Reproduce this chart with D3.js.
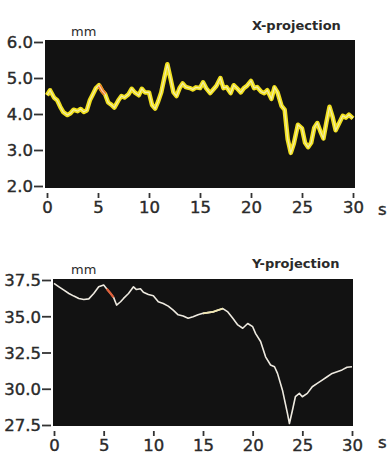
<!DOCTYPE html>
<html>
<head>
<meta charset="utf-8">
<script src="https://cdn.jsdelivr.net/npm/d3@7"></script>
<style>
  body { margin: 0; background: #fff; }
  svg text { font-family: "DejaVu Sans", Verdana, sans-serif; fill: #2a2a2a; }
</style>
</head>
<body>
<script>
// X-projection trace (time s, value mm)
let xt = [0, 0.3, 0.7, 1, 1.3, 1.6, 2, 2.3, 2.6, 3, 3.3, 3.6, 3.9, 4.2, 4.5, 4.8, 5.1, 5.4, 5.7, 6, 6.3, 6.6, 7, 7.3, 7.6, 8, 8.3, 8.6, 9, 9.3, 9.6, 10, 10.3, 10.6, 10.9, 11.2, 11.5, 11.8, 12.1, 12.4, 12.7, 13, 13.3, 13.6, 14, 14.3, 14.6, 15, 15.3, 15.6, 16, 16.3, 16.6, 17, 17.3, 17.6, 18, 18.3, 18.6, 19, 19.3, 19.6, 20, 20.3, 20.6, 21, 21.3, 21.6, 22, 22.3, 22.6, 23, 23.3, 23.6, 23.9, 24.2, 24.6, 25, 25.3, 25.6, 25.9, 26.2, 26.5, 26.8, 27.1, 27.4, 27.7, 28, 28.3, 28.6, 29, 29.3, 29.6, 30];
let xv = [4.52, 4.66, 4.45, 4.38, 4.2, 4.05, 3.97, 4.02, 4.12, 4.08, 4.14, 4.06, 4.1, 4.38, 4.55, 4.72, 4.8, 4.65, 4.55, 4.32, 4.26, 4.18, 4.38, 4.5, 4.46, 4.55, 4.7, 4.6, 4.52, 4.7, 4.6, 4.6, 4.25, 4.15, 4.35, 4.6, 5.0, 5.38, 5.0, 4.6, 4.5, 4.72, 4.85, 4.75, 4.72, 4.68, 4.74, 4.72, 4.88, 4.72, 4.58, 4.68, 4.78, 5.0, 4.72, 4.75, 4.58, 4.8, 4.72, 4.6, 4.72, 4.78, 4.92, 4.72, 4.75, 4.62, 4.58, 4.66, 4.42, 4.74, 4.6, 4.22, 4.12, 3.3, 2.92, 3.18, 3.7, 3.6, 3.2, 3.08, 3.2, 3.62, 3.75, 3.52, 3.32, 3.78, 4.2, 3.92, 3.55, 3.72, 3.95, 3.9, 3.98, 3.88];

// Y-projection trace
let yt = [0, 0.5, 1, 1.5, 2, 2.5, 3, 3.5, 4, 4.5, 5, 5.3, 5.7, 6, 6.3, 6.7, 7, 7.5, 8, 8.3, 8.7, 9, 9.5, 10, 10.5, 11, 11.5, 12, 12.5, 13, 13.5, 14, 14.5, 15, 15.5, 16, 16.5, 17, 17.5, 18, 18.5, 19, 19.5, 20, 20.3, 20.8, 21.3, 21.8, 22.2, 22.5, 23, 23.5, 23.7, 24, 24.3, 24.7, 25, 25.5, 26, 26.5, 27, 27.5, 28, 28.5, 29, 29.5, 30];
let yv = [37.27, 37.03, 36.8, 36.57, 36.39, 36.23, 36.16, 36.2, 36.57, 37.03, 37.15, 36.9, 36.57, 36.3, 35.77, 36.0, 36.23, 36.57, 37.03, 36.84, 36.9, 36.65, 36.5, 36.42, 36.0, 35.88, 35.7, 35.42, 35.1, 35.02, 34.86, 34.97, 35.1, 35.2, 35.25, 35.3, 35.42, 35.53, 35.3, 34.86, 34.4, 34.17, 34.5, 34.28, 33.8, 33.26, 32.2, 31.64, 31.52, 31.06, 29.9, 28.3, 27.6, 28.5, 29.45, 29.68, 29.45, 29.68, 30.14, 30.37, 30.6, 30.83, 31.06, 31.18, 31.3, 31.48, 31.52];

let xTicks = [0, 5, 10, 15, 20, 25, 30];
let topTicks = [2, 3, 4, 5, 6];
let botTicks = [27.5, 30, 32.5, 35, 37.5];

let svg = d3.select('body').append('svg')
    .attr('width', 388)
    .attr('height', 454);

function Panel(o) {
    let x = d3.scaleLinear().domain([0, 30]).range([o.x0, o.x1]);
    let y = d3.scaleLinear().domain(o.ydom).range([o.y1, o.y0]);
    let g = svg.append('g');

    g.append('rect')
        .attr('x', o.x0 - o.pad).attr('y', o.y0 - o.pad)
        .attr('width', o.x1 - o.x0 + 2*o.pad)
        .attr('height', o.y1 - o.y0 + 2*o.pad)
        .attr('fill', '#121212');

    let ya = g.append('g')
        .attr('transform', 'translate(' + (o.x0 - o.pad - 2) + ',0)')
        .call(d3.axisLeft(y).tickValues(o.yticks).tickFormat(d3.format('.1f')).tickSize(9).tickPadding(1));
    ya.select('.domain').remove();
    ya.selectAll('line').attr('stroke', '#333').attr('stroke-width', 1.8);
    ya.selectAll('text').attr('font-size', 16.5).attr('dy', '0.36em')
        .attr('stroke', '#2a2a2a').attr('stroke-width', 0.4);

    let xa = g.append('g')
        .attr('transform', 'translate(0,' + (o.y1 + o.pad + 5) + ')')
        .call(d3.axisBottom(x).tickValues(xTicks).tickFormat(d3.format('d')).tickSize(5).tickPadding(3));
    xa.select('.domain').remove();
    xa.selectAll('line').attr('stroke', '#333').attr('stroke-width', 1.8);
    xa.selectAll('text').attr('font-size', 16.5)
        .attr('stroke', '#2a2a2a').attr('stroke-width', 0.4);

    g.append('text').attr('x', 378).attr('y', o.y1 + o.sY).attr('font-size', 16.5)
        .attr('stroke', '#2a2a2a').attr('stroke-width', 0.4).text('s');
    g.append('text').attr('x', 71).attr('y', o.y0 - 6).attr('font-size', 13).text('mm');
    g.append('text').attr('x', 252).attr('y', o.y0 - 12)
        .attr('font-size', 13).attr('font-weight', 'bold').attr('fill', '#111')
        .text(o.title);

    let line = d3.line().x(function(d) { return x(d[0]); }).y(function(d) { return y(d[1]); });
    let pts = o.t.map(function(t, i) { return [t, o.v[i]]; });
    return { g: g, line: line, pts: pts, x: x };
}

// top panel
let p1 = Panel({ x0: 47, x1: 353, y0: 42, y1: 186, pad: 2, ydom: [2, 6], yticks: topTicks,
                 sY: 29, t: xt, v: xv, title: 'X-projection' });
p1.g.append('path').attr('d', p1.line(p1.pts))
    .attr('fill', 'none').attr('stroke', '#f2e11e').attr('stroke-width', 4.5)
    .attr('stroke-linejoin', 'round');
p1.g.append('path').attr('d', p1.line(p1.pts.filter(function(d) { return d[0] >= 5 && d[0] <= 5.7; })))
    .attr('fill', 'none').attr('stroke', '#f07a2a').attr('stroke-width', 4);
p1.g.append('path').attr('d', p1.line(p1.pts))
    .attr('fill', 'none').attr('stroke', '#f4f1d8').attr('stroke-width', 1.2).attr('opacity', 0.75);

// bottom panel
let p2 = Panel({ x0: 54, x1: 352, y0: 280, y1: 425, pad: 1, ydom: [27.5, 37.5], yticks: botTicks,
                 sY: 23, t: yt, v: yv, title: 'Y-projection' });
p2.g.append('path').attr('d', p2.line(p2.pts))
    .attr('fill', 'none').attr('stroke', '#eeeae0').attr('stroke-width', 1.6)
    .attr('stroke-linejoin', 'round');
p2.g.append('path').attr('d', p2.line(p2.pts.filter(function(d) { return d[0] >= 5.3 && d[0] <= 6; })))
    .attr('fill', 'none').attr('stroke', '#e0603a').attr('stroke-width', 2.2);
p2.g.append('path').attr('d', p2.line(p2.pts.filter(function(d) { return d[0] >= 15 && d[0] <= 17; })))
    .attr('fill', 'none').attr('stroke', '#f0e6b0').attr('stroke-width', 1.8);
</script>
</body>
</html>
